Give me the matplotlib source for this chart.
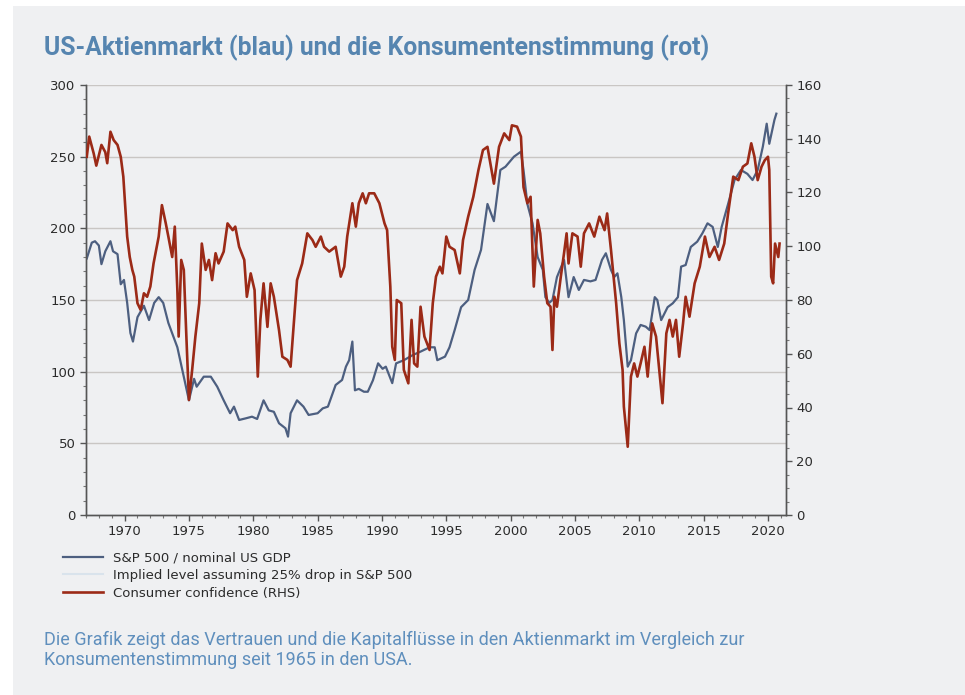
import matplotlib
matplotlib.use("Agg")
import matplotlib.pyplot as plt
from matplotlib.patches import Rectangle
from matplotlib.lines import Line2D
from matplotlib.ticker import MultipleLocator

# S&P 500 / nominales US-BIP (linke Achse)
spx_years = [1967.06, 1967.45, 1967.7, 1968.0, 1968.2, 1968.5, 1968.9, 1969.1, 1969.45, 1969.7,
             1969.95, 1970.2, 1970.45, 1970.65, 1971.0, 1971.5, 1971.9, 1972.3, 1972.65, 1973.0,
             1973.4, 1974.1, 1974.6, 1975.0, 1975.4, 1975.6, 1976.15, 1976.7, 1977.2, 1977.7,
             1978.2, 1978.5, 1978.9, 1979.4, 1979.9, 1980.3, 1980.8, 1981.2, 1981.6, 1982.0,
             1982.5, 1982.7, 1982.9, 1983.4, 1983.9, 1984.3, 1985.0, 1985.4, 1985.8, 1986.4,
             1986.9, 1987.2, 1987.45, 1987.7, 1987.9, 1988.2, 1988.6, 1988.9, 1989.3, 1989.7,
             1990.05, 1990.3, 1990.6, 1990.8, 1991.1, 1991.7, 1992.4, 1993.0, 1993.7, 1994.1,
             1994.3, 1994.9, 1995.25, 1995.65, 1996.15, 1996.7, 1997.2, 1997.7, 1998.2, 1998.7,
             1999.2, 1999.6, 2000.26, 2000.8, 2001.0, 2001.3, 2001.7, 2002.1, 2002.5, 2002.7,
             2003.0, 2003.25, 2003.6, 2004.15, 2004.5, 2004.9, 2005.3, 2005.7, 2006.2, 2006.6,
             2007.1, 2007.4, 2007.8, 2008.05, 2008.3, 2008.6, 2008.8, 2009.1, 2009.35, 2009.75,
             2010.1, 2010.5, 2010.8, 2011.2, 2011.4, 2011.7, 2012.2, 2012.6, 2013.0, 2013.25,
             2013.6, 2014.0, 2014.5, 2014.9, 2015.3, 2015.7, 2016.1, 2016.4, 2016.9, 2017.4,
             2017.9, 2018.4, 2018.8, 2019.2, 2019.6, 2019.9, 2020.1, 2020.5, 2020.65]
spx_gdp = [179, 190, 191, 188, 175, 184, 191, 184, 182, 161,
           164, 148, 127, 121, 138, 146, 136, 148, 152, 148,
           134, 117, 96.5, 80, 95, 89.5, 96.5, 96.5, 89.5, 80,
           71, 75.6, 66.3, 67.4, 68.6, 67, 80, 73, 72, 64,
           60.5, 54.7, 71, 80, 75.6, 69.8, 71, 74.4, 75.6, 90.7,
           94.2, 103.5, 108, 121, 87, 88, 86, 86, 94, 105.8,
           102, 103.5, 96.5, 92, 105.8, 108, 111.6, 114, 117, 117,
           108, 110.5, 117, 129, 145, 150, 171, 185, 217, 205,
           240.7, 243, 250, 253.5, 240.7, 217, 203.5, 180, 171, 152,
           148, 150, 166, 178, 152, 166, 157, 164, 163, 164,
           178, 182.6, 171, 166, 168.6, 152, 136, 103.5, 108, 126.7,
           132.6, 131.4, 129, 152, 150, 136, 145, 147.7, 152, 173.3,
           174.4, 187, 190.7, 196.5, 203.5, 201, 187, 201, 217, 233.7,
           240.7, 238, 233.7, 240.7, 257, 273, 259, 275.6, 280]

# Konsumentenstimmung (rechte Achse)
conf_years = [1967.06, 1967.25, 1967.6, 1967.8, 1968.2, 1968.5, 1968.65, 1968.9, 1969.15, 1969.45,
              1969.7, 1969.9, 1970.2, 1970.4, 1970.6, 1970.75, 1971.0, 1971.25, 1971.5, 1971.75,
              1972.0, 1972.25, 1972.65, 1972.9, 1973.2, 1973.4, 1973.7, 1973.9, 1974.1, 1974.2,
              1974.4, 1974.6, 1974.8, 1975.0, 1975.25, 1975.5, 1975.8, 1976.0, 1976.3, 1976.55,
              1976.8, 1977.07, 1977.3, 1977.7, 1978.0, 1978.4, 1978.6, 1978.9, 1979.3, 1979.5,
              1979.8, 1980.1, 1980.35, 1980.55, 1980.8, 1981.1, 1981.35, 1981.6, 1982.0, 1982.26,
              1982.65, 1982.9, 1983.15, 1983.4, 1983.8, 1984.2, 1984.6, 1984.85, 1985.25, 1985.5,
              1985.9, 1986.4, 1986.8, 1987.07, 1987.3, 1987.7, 1987.97, 1988.2, 1988.5, 1988.75,
              1989.0, 1989.4, 1989.8, 1990.2, 1990.4, 1990.65, 1990.8, 1991.0, 1991.15, 1991.5,
              1991.7, 1992.05, 1992.3, 1992.5, 1992.75, 1993.0, 1993.3, 1993.7, 1993.95, 1994.2,
              1994.5, 1994.7, 1995.0, 1995.25, 1995.65, 1996.05, 1996.3, 1996.7, 1997.1, 1997.5,
              1997.85, 1998.2, 1998.7, 1999.1, 1999.5, 1999.9, 2000.1, 2000.5, 2000.8, 2001.0,
              2001.3, 2001.55, 2001.8, 2002.1, 2002.3, 2002.6, 2002.85, 2003.1, 2003.25, 2003.4,
              2003.6, 2003.9, 2004.15, 2004.35, 2004.5, 2004.8, 2005.2, 2005.45, 2005.7, 2006.1,
              2006.5, 2006.9, 2007.3, 2007.5, 2007.8, 2008.2, 2008.45, 2008.7, 2008.8, 2009.1,
              2009.35, 2009.6, 2009.85, 2010.1, 2010.4, 2010.65, 2011.0, 2011.3, 2011.55, 2011.8,
              2012.1, 2012.35, 2012.6, 2012.85, 2013.1, 2013.4, 2013.6, 2013.9, 2014.3, 2014.7,
              2015.1, 2015.45, 2015.85, 2016.2, 2016.6, 2016.9, 2017.3, 2017.7, 2018.05, 2018.4,
              2018.7, 2018.95, 2019.2, 2019.5, 2019.75, 2020.0, 2020.1, 2020.25, 2020.4, 2020.55,
              2020.8, 2020.9]
confidence = [133.3, 140.8, 134.5, 130, 137.7, 135, 130.9, 142.6, 139.5, 137.7,
              133.3, 125.9, 103.6, 96, 91.2, 88.7, 78.8, 76.3, 82.5, 81.2,
              85, 93.6, 103.6, 115.3, 108.5, 103.6, 96, 107.3, 83.7, 66.4,
              94.9, 91.2, 66.4, 42.8, 54, 66.4, 78.8, 101, 91.2, 94.9,
              87.4, 97.4, 93.6, 98, 108.5, 106, 107.3, 99.8, 94.9, 81.2,
              89.9, 83.7, 51.5, 72.6, 86.2, 70, 86.2, 81.2, 68.8, 58.9,
              57.7, 55.2, 71.3, 87.4, 93.6, 104.8, 102.3, 99.8, 103.6, 99.8,
              98, 99.8, 88.7, 92.4, 103.6, 116, 107.3, 116, 119.7, 116,
              119.7, 119.7, 116, 108.5, 106, 85, 62.6, 57.7, 80, 78.8,
              54, 49, 72.6, 56.4, 55.2, 77.5, 66.4, 61.4, 78.8, 88.7,
              92.4, 89.9, 103.6, 99.8, 98.6, 89.9, 102.3, 111, 118.4, 128.4,
              135.8, 137, 123.3, 137, 142, 139.5, 145, 144.5, 140.8, 122,
              116, 118.4, 85, 109.8, 104.8, 88.7, 78.8, 77.5, 61.4, 81.2,
              77.5, 88.7, 97.4, 104.8, 93.6, 104.8, 103.6, 92.4, 104.8, 108.5,
              103.6, 111, 106, 112.2, 98.6, 78.8, 63.9, 54, 40.3, 25.4,
              51.5, 56.4, 51.5, 56.4, 62.6, 51.5, 71.3, 66.4, 54, 41.6,
              67.6, 72.6, 66.4, 72.6, 58.9, 71.3, 81.2, 73.8, 86.2, 92.4,
              103.6, 96, 99.8, 94.9, 101, 112.2, 125.9, 124.6, 129.6, 130.8,
              138.3, 133.3, 124.6, 129.6, 132, 133.3, 128.4, 88.7, 86.2, 101,
              96, 101]

labels = ["S&P 500 / nominal US GDP",
          "Implied level assuming 25% drop in S&P 500",
          "Consumer confidence (RHS)"]

panel = "#eff0f2"
blue = "#4d5f80"
red = "#9b2a17"
faint = "#d9e3ec"
title_col = "#5685b0"

fig = plt.figure(figsize=(9.65, 6.95), dpi=100)
fig.patch.set_facecolor("white")
fig.patches.append(Rectangle((13 / 965, 0), 1 - 13 / 965, 1 - 6 / 695,
                             transform=fig.transFigure, facecolor=panel,
                             edgecolor="none", zorder=-10))

ax = fig.add_axes([86 / 965, 1 - 515 / 695, 700 / 965, 430 / 695])
ax.set_facecolor(panel)
ax2 = ax.twinx()

ax.plot(spx_years, spx_gdp, color=blue, lw=1.6, zorder=3)
ax2.plot(conf_years, confidence, color=red, lw=1.9, zorder=3)

ax.set_xlim(1967, 2021.4)
ax.set_ylim(0, 300)
ax2.set_ylim(0, 160)

ax.set_yticks(range(0, 301, 50))
ax.yaxis.set_minor_locator(MultipleLocator(10))
ax2.set_yticks(range(0, 161, 20))
ax2.yaxis.set_minor_locator(MultipleLocator(5))
ax.set_xticks(range(1970, 2021, 5))
ax.xaxis.set_minor_locator(MultipleLocator(1))

for y in range(50, 301, 50):
    ax.axhline(y, color="#c9c6c4", lw=1.0, zorder=1)

for a in (ax, ax2):
    a.spines["top"].set_visible(False)
    for s in ("left", "right", "bottom"):
        a.spines[s].set_color("#555555")
        a.spines[s].set_linewidth(1.0)
    a.tick_params(which="major", length=4, width=1, color="#555555",
                  labelsize=9.5, labelcolor="#2b2b2b")
    a.tick_params(which="minor", length=2, width=0.8, color="#777777")

leg_handles = [Line2D([], [], color=blue, lw=1.6),
               Line2D([], [], color=faint, lw=1.5),
               Line2D([], [], color=red, lw=1.9)]
fig.legend(leg_handles, labels, loc="upper left",
           bbox_to_anchor=(58 / 965, 1 - 546 / 695), frameon=False,
           fontsize=9.5, labelcolor="#2b2b2b", handlelength=3.0,
           handletextpad=0.8, labelspacing=0.35, borderaxespad=0)

fig.text(44 / 965, 1 - 48 / 695,
         "US-Aktienmarkt (blau) und die Konsumentenstimmung (rot)",
         fontsize=17.8, fontweight="bold", color=title_col, family="Roboto",
         va="center", ha="left")
fig.text(44 / 965, 1 - 650 / 695,
         "Die Grafik zeigt das Vertrauen und die Kapitalflüsse in den Aktienmarkt im Vergleich zur\n"
         "Konsumentenstimmung seit 1965 in den USA.",
         fontsize=13, color="#5f8fbd", family="Roboto",
         va="center", ha="left", linespacing=1.15)

fig.savefig("out.png", dpi=100, facecolor=fig.get_facecolor())
